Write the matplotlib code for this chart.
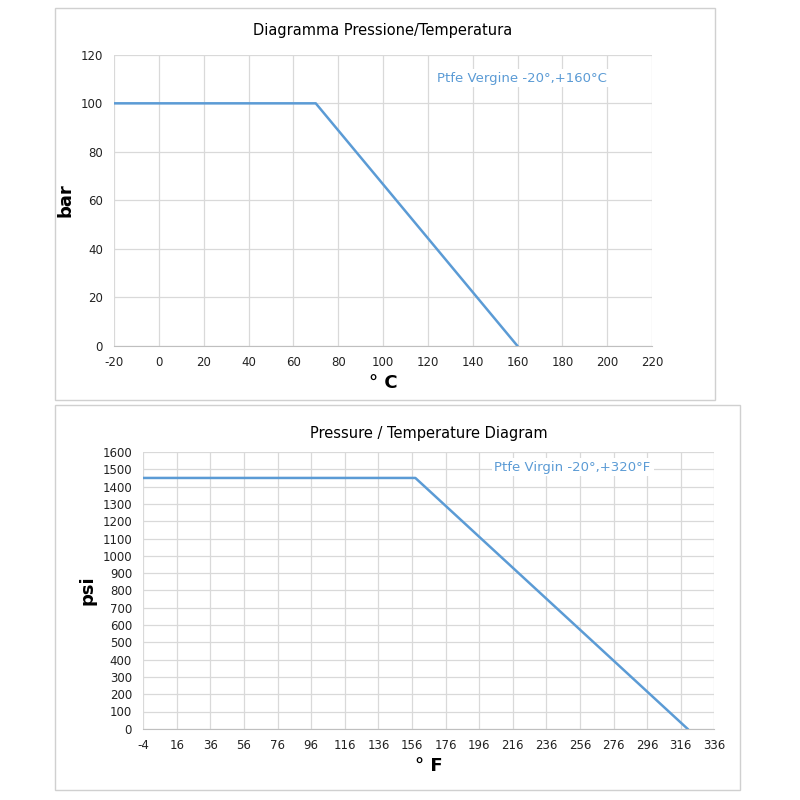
import matplotlib.pyplot as plt
from matplotlib.patches import Rectangle

plt.rcParams['axes.unicode_minus'] = False

# top chart (Celsius / bar)
temp_c = [-20, 70, 160]
press_bar = [100, 100, 0]
# bottom chart (Fahrenheit / psi)
temp_f = [-4, 158, 320]
press_psi = [1450, 1450, 0]

LINE = '#5b9bd5'
GRID = '#d9d9d9'

fig = plt.figure(figsize=(8, 8), dpi=100)
fig.patch.set_facecolor('white')

# panel frames
for x0, y0, x1, y1 in [(55, 8, 715, 400), (55, 405, 740, 790)]:
    fig.patches.append(Rectangle((x0 / 800, 1 - y1 / 800), (x1 - x0) / 800, (y1 - y0) / 800,
                                 transform=fig.transFigure, fill=False, edgecolor='#d0d0d0', lw=1))


def style(ax):
    ax.grid(True, color=GRID, lw=0.9)
    ax.set_axisbelow(True)
    for s in ['top', 'right', 'left']:
        ax.spines[s].set_visible(False)
    ax.spines['bottom'].set_color('#bfbfbf')
    ax.tick_params(length=0, labelsize=8.5, colors='#222222')
    ax.tick_params(axis='x', pad=7)
    ax.tick_params(axis='y', pad=8)


ax1 = fig.add_axes([0.1425, 0.5675, 0.6725, 0.364])
ax1.plot(temp_c, press_bar, color=LINE, lw=1.8)
ax1.set_xlim(-20, 220)
ax1.set_ylim(0, 120)
ax1.set_xticks(range(-20, 221, 20))
ax1.set_yticks(range(0, 121, 20))
style(ax1)
ax1.set_title('Diagramma Pressione/Temperatura', fontsize=10.5, pad=14)
ax1.set_xlabel('° C', fontsize=13, fontweight='bold')
ax1.set_ylabel('bar', fontsize=13, fontweight='bold')
ax1.text(0.6, 0.92, 'Ptfe Vergine -20°,+160°C', transform=ax1.transAxes,
         color=LINE, fontsize=9.5, ha='left', va='center',
         bbox=dict(facecolor='white', edgecolor='none', pad=2))

ax2 = fig.add_axes([0.179, 0.089, 0.714, 0.346])
ax2.plot(temp_f, press_psi, color=LINE, lw=1.8)
ax2.set_xlim(-4, 336)
ax2.set_ylim(0, 1600)
ax2.set_xticks(range(-4, 337, 20))
ax2.set_yticks(range(0, 1601, 100))
style(ax2)
ax2.set_title('Pressure / Temperature Diagram', fontsize=10.5, pad=10)
ax2.set_xlabel('° F', fontsize=13, fontweight='bold')
ax2.set_ylabel('psi', fontsize=13, fontweight='bold')
ax2.text(0.615, 0.945, 'Ptfe Virgin -20°,+320°F', transform=ax2.transAxes,
         color=LINE, fontsize=9.5, ha='left', va='center',
         bbox=dict(facecolor='white', edgecolor='none', pad=2))

fig.savefig('out.png', dpi=100, facecolor='white')
